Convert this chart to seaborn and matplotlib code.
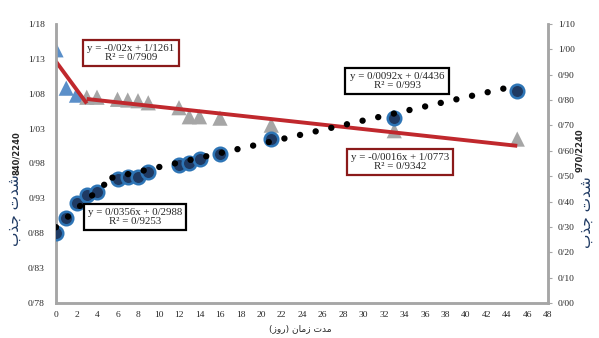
import numpy as np
import pandas as pd
import matplotlib
matplotlib.use("Agg")
import matplotlib.pyplot as plt
import seaborn as sns
from matplotlib.ticker import FixedLocator, FuncFormatter

# ---------------- data ----------------
days_840 = [0, 1, 2, 3, 4, 6, 7, 8, 9, 12, 13, 14, 16, 21, 33, 45]
abs_840 = [1.143, 1.088, 1.078, 1.075, 1.075, 1.072, 1.071, 1.070, 1.067,
           1.060, 1.047, 1.047, 1.045, 1.035, 1.027, 1.015]
group_840 = ["early", "early", "early"] + ["late"] * 13

days_970 = [0, 1, 2, 3, 4, 6, 7, 8, 9, 12, 13, 14, 16, 21, 33, 45]
abs_970 = [0.276, 0.335, 0.394, 0.426, 0.438, 0.489, 0.497, 0.497, 0.517,
           0.544, 0.552, 0.568, 0.587, 0.647, 0.729, 0.836]

# trendline coefficients (slope, intercept, x-start, x-end)
trend_840 = [(-0.02, 1.1261, 0, 3), (-0.0016, 1.0773, 3, 45)]
trend_970 = [(0.0356, 0.2988, 0, 5.5), (0.0092, 0.4436, 5.5, 45)]

eq_texts = ["y = -0/02x + 1/1261\nR² = 0/7909",
            "y = 0/0092x + 0/4436\nR² = 0/993",
            "y = -0/0016x + 1/0773\nR² = 0/9342",
            "y = 0/0356x + 0/2988\nR² = 0/9253"]

left_ticks = [0.78, 0.83, 0.88, 0.93, 0.98, 1.03, 1.08, 1.13, 1.18]
right_ticks = [0.0, 0.1, 0.2, 0.3, 0.4, 0.5, 0.6, 0.7, 0.8, 0.9, 1.0, 1.1]
x_ticks = list(range(0, 49, 2))

ylabel_fa = "شدت جذب"
xlabel_fa = "مدت زمان (روز)"
wl_left = "840/2240"
wl_right = "970/2240"

# ---------------- simple Arabic shaping for matplotlib ----------------
FORMS = {  # iso, fin, ini, med
    'ا': ('\uFE8D', '\uFE8E', None, None),
    'ب': ('\uFE8F', '\uFE90', '\uFE91', '\uFE92'),
    'ت': ('\uFE95', '\uFE96', '\uFE97', '\uFE98'),
    'ج': ('\uFE9D', '\uFE9E', '\uFE9F', '\uFEA0'),
    'د': ('\uFEA9', '\uFEAA', None, None),
    'ذ': ('\uFEAB', '\uFEAC', None, None),
    'ر': ('\uFEAD', '\uFEAE', None, None),
    'ز': ('\uFEAF', '\uFEB0', None, None),
    'ش': ('\uFEB5', '\uFEB6', '\uFEB7', '\uFEB8'),
    'م': ('\uFEE1', '\uFEE2', '\uFEE3', '\uFEE4'),
    'ن': ('\uFEE5', '\uFEE6', '\uFEE7', '\uFEE8'),
    'و': ('\uFEED', '\uFEEE', None, None),
}
MIRROR = {'(': ')', ')': '('}


def shape(s):
    out = []
    for i, c in enumerate(s):
        if c not in FORMS:
            out.append(MIRROR.get(c, c))
            continue
        prev = s[i - 1] if i > 0 else ''
        nxt = s[i + 1] if i + 1 < len(s) else ''
        jp = prev in FORMS and FORMS[prev][2] is not None
        jn = FORMS[c][2] is not None and nxt in FORMS
        f = FORMS[c]
        if jp and jn:
            out.append(f[3])
        elif jp:
            out.append(f[1])
        elif jn:
            out.append(f[2])
        else:
            out.append(f[0])
    return ''.join(reversed(out))


# ---------------- figure ----------------
sns.set_style("white")
plt.rcParams['font.family'] = ['Liberation Serif', 'DejaVu Sans']

fig = plt.figure(figsize=(5.99, 3.38), dpi=100)
ax = fig.add_axes([56 / 599, 1 - 303 / 338, (548 - 56) / 599, (303 - 24) / 338])
ax2 = ax.twinx()

df840 = pd.DataFrame({"day": days_840, "abs": abs_840, "grp": group_840})
df970 = pd.DataFrame({"day": days_970, "abs": abs_970})

sns.scatterplot(data=df840, x="day", y="abs", hue="grp", ax=ax, marker="^",
                s=120, palette={"early": "#5b8fc9", "late": "#a6a6a6"},
                edgecolor=None, linewidth=0, legend=False, zorder=3)
for m, b, x0, x1 in trend_840:
    xs = np.array([x0, x1])
    sns.lineplot(x=xs, y=m * xs + b, ax=ax, color="#c0282d", linewidth=2.8,
                 zorder=4, solid_capstyle="butt")

sns.scatterplot(data=df970, x="day", y="abs", ax=ax2, marker="o", s=95,
                color="#1f3a63", edgecolor="#2e75b6", linewidth=1.8,
                legend=False, zorder=3)
for m, b, x0, x1 in trend_970:
    xs = np.array([x0, x1])
    sns.lineplot(x=xs, y=m * xs + b, ax=ax2, color="black", linewidth=4.6,
                 linestyle=(0, (0.01, 2.5)), dash_capstyle="round",
                 zorder=4)

# axes limits & ticks
ax.set_xlim(0, 48)
ax.set_ylim(0.78, 1.18)
ax2.set_ylim(0.0, 1.10)
ax.xaxis.set_major_locator(FixedLocator(x_ticks))
ax.yaxis.set_major_locator(FixedLocator(left_ticks))
ax2.yaxis.set_major_locator(FixedLocator(right_ticks))
fmt = FuncFormatter(lambda v, p: f"{v:.2f}".replace(".", "/"))
ax.yaxis.set_major_formatter(fmt)
ax2.yaxis.set_major_formatter(fmt)
ax.xaxis.set_major_formatter(FuncFormatter(lambda v, p: f"{int(v)}"))

ax.tick_params(axis="x", length=0, labelsize=6.8, pad=6)
ax.tick_params(axis="y", length=0, labelsize=6.8, pad=8)
ax2.tick_params(axis="y", length=3, width=0.8, color="#a6a6a6",
                labelsize=6.8, pad=4)
ax.set_xlabel("")
ax.set_ylabel("")
ax2.set_ylabel("")

for a in (ax, ax2):
    a.spines["top"].set_visible(False)
    for side in ("left", "bottom", "right"):
        a.spines[side].set_color("#a6a6a6")
        a.spines[side].set_linewidth(1.8)

# equation boxes
box_pos = [(131, 53, "#8b1a1a"), (397, 81, "black"),
           (400, 162, "#8b1a1a"), (135, 217, "black")]
for txt, (px, py, ec) in zip(eq_texts, box_pos):
    fig.text(px / 599, 1 - py / 338, txt, ha="center", va="center",
             fontsize=7.8, linespacing=0.95, zorder=10,
             bbox=dict(boxstyle="square,pad=0.4", fc="white", ec=ec, lw=1.6))

# axis titles
fig.text(14 / 599, 1 - 210 / 338, shape(ylabel_fa), rotation=90,
         ha="center", va="center", fontsize=11, color="#1f3a63",
         family=["DejaVu Sans"])
fig.text(17 / 599, 1 - 153 / 338, wl_left, rotation=90, ha="center",
         va="center", fontsize=6, fontweight="bold", family=["DejaVu Sans"])
fig.text(586 / 599, 1 - 212 / 338, shape(ylabel_fa), rotation=90,
         ha="center", va="center", fontsize=11, color="#1f3a63",
         family=["DejaVu Sans"])
fig.text(580 / 599, 1 - 150 / 338, wl_right, rotation=90, ha="center",
         va="center", fontsize=6, fontweight="bold", family=["DejaVu Sans"])
fig.text(300 / 599, 1 - 329 / 338, shape(xlabel_fa), ha="center",
         va="center", fontsize=6.5, family=["DejaVu Sans"])

fig.savefig("out.png", dpi=100)
